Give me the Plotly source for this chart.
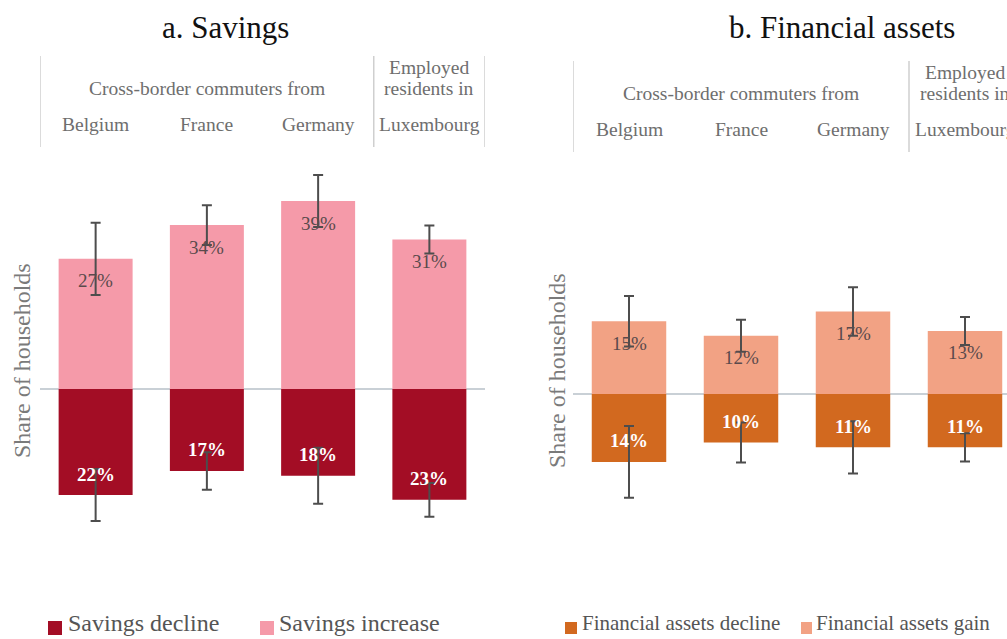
import plotly.graph_objects as go

W, H = 1007, 639
FONT = "Liberation Serif"

# ---- data -------------------------------------------------------------
countries = ["Belgium", "France", "Germany", "Luxembourg"]

savings_decline = [22, 17, 18, 23]
savings_increase = [27, 34, 39, 31]
savings_decline_err = [5.4, 3.9, 5.8, 3.5]
savings_increase_err = [7.5, 4.1, 5.4, 2.9]

assets_decline = [14, 10, 11, 11]
assets_gain = [15, 12, 17, 13]
assets_decline_err = [7.4, 4.1, 5.4, 2.9]
assets_gain_err = [5.2, 3.3, 5.0, 2.9]

panel_titles = ["a. Savings", "b. Financial assets"]
group_label = "Cross-border commuters from"
resident_label = ["Employed", "residents in"]
y_title = "Share of households"

# ---- colours ----------------------------------------------------------
SAV_DEC = "#A30D25"
SAV_INC = "#F59AA9"
FIN_DEC = "#D2691F"
FIN_GAIN = "#F2A284"
ERR = "#4d4d4d"
HEAD = "#6e6e6e"
DIVIDER = "#cfcfcf"


def px_x(p):
    return p / W


def px_y(p):
    return 1 - p / H


# pixel geometry of the two panels
PLOT_TOP, PLOT_BOTTOM = 160, 560
panels = [
    dict(xa="x", ya="y", left=40, right=485, step=111.25, zero=389, scale=4.82, dy=0,
         title_x=225, ytitle_x=22, ytitle_y=361,
         key_sq=[(48, 62), (260, 274)], key_txt=[66, 277], key_size=24, key_sq_h=14),
    dict(xa="x2", ya="y2", left=573, right=W, step=112.0, zero=394, scale=4.85, dy=5,
         title_x=842, ytitle_x=557, ytitle_y=371,
         key_sq=[(565, 577), (801, 812)], key_txt=[580, 814], key_size=21, key_sq_h=12),
]

series = [
    (("Savings decline", savings_decline, savings_decline_err, SAV_DEC),
     ("Savings increase", savings_increase, savings_increase_err, SAV_INC)),
    (("Financial assets decline", assets_decline, assets_decline_err, FIN_DEC),
     ("Financial assets gain", assets_gain, assets_gain_err, FIN_GAIN)),
]

fig = go.Figure()
annotations = []
shapes = []
layout_axes = {}
KEY_SQ_Y = 628   # centre of the key squares
KEY_TXT_Y = 623  # centre of the key text boxes

for idx, (p, (dec, inc)) in enumerate(zip(panels, series)):
    xa, ya = p["xa"], p["ya"]
    xref, yref = xa, ya
    # decline below zero, increase above
    for k, ((name, vals, err, col), sign) in enumerate(((dec, -1), (inc, 1))):
        fig.add_trace(go.Bar(
            x=countries, y=[sign * v for v in vals], name=name,
            marker=dict(color=col, line=dict(width=0)),
            error_y=dict(type="data", array=err, color=ERR, thickness=2, width=5),
            xaxis=xa, yaxis=ya, hoverinfo="skip", showlegend=False,
        ))
        for c, v in zip(countries, vals):
            if sign > 0:
                font = dict(family=FONT, size=19, color="#5a4a4c")
            else:
                font = dict(family=FONT, size=19, color="white", weight="bold")
            annotations.append(dict(
                x=c, y=sign * v, xref=xref, yref=yref, text=f"{v}%",
                showarrow=False, yshift=-22 if sign > 0 else 21, font=font,
            ))
        # key entry below the panel
        x0, x1 = p["key_sq"][k]
        hh = p["key_sq_h"] / 2
        shapes.append(dict(
            type="rect", xref="paper", yref="paper",
            x0=px_x(x0), x1=px_x(x1), y0=px_y(KEY_SQ_Y + hh), y1=px_y(KEY_SQ_Y - hh),
            fillcolor=col, line=dict(width=0),
        ))
        annotations.append(dict(
            x=px_x(p["key_txt"][k]), y=px_y(KEY_TXT_Y), xref="paper", yref="paper",
            text=name, showarrow=False, xanchor="left", yanchor="middle",
            font=dict(family=FONT, size=p["key_size"], color="#555555"),
        ))

    # axes
    n_vis = (p["right"] - p["left"]) / p["step"]
    y_hi = (p["zero"] - PLOT_TOP) / p["scale"]
    y_lo = -(PLOT_BOTTOM - p["zero"]) / p["scale"]
    xkey = "xaxis" if xa == "x" else "xaxis2"
    ykey = "yaxis" if ya == "y" else "yaxis2"
    layout_axes[xkey] = dict(
        domain=[px_x(p["left"]), px_x(p["right"])], range=[-0.5, -0.5 + n_vis],
        showticklabels=False, showgrid=False, zeroline=False, showline=False,
        ticks="", anchor=ya, type="category", fixedrange=True,
    )
    layout_axes[ykey] = dict(
        domain=[px_y(PLOT_BOTTOM), px_y(PLOT_TOP)], range=[y_lo, y_hi],
        showticklabels=False, showgrid=False, zeroline=True,
        zerolinecolor="#c9d0d6", zerolinewidth=1.5, showline=False, ticks="",
        anchor=xa, fixedrange=True,
    )

    dy = p["dy"]
    # panel title
    annotations.append(dict(
        x=px_x(p["title_x"]), y=px_y(28), xref="paper", yref="paper",
        text=panel_titles[idx], showarrow=False,
        font=dict(family=FONT, size=31, color="#111111"),
        xanchor="center", yanchor="middle",
    ))
    # group header
    annotations.append(dict(
        x=1, y=px_y(88 + dy), xref=xref, yref="paper", text=group_label,
        showarrow=False, font=dict(family=FONT, size=19.5, color=HEAD),
        xanchor="center", yanchor="middle",
    ))
    for k, line in enumerate(resident_label):
        annotations.append(dict(
            x=3, y=px_y(68 + 20 * k + dy), xref=xref, yref="paper", text=line,
            showarrow=False, font=dict(family=FONT, size=19.5, color=HEAD),
            xanchor="center", yanchor="middle",
        ))
    for c in countries:
        annotations.append(dict(
            x=c, y=px_y(124 + dy), xref=xref, yref="paper", text=c,
            showarrow=False, font=dict(family=FONT, size=19.5, color=HEAD),
            xanchor="center", yanchor="middle",
        ))
    # vertical dividers of the header
    for xv in (-0.5, 2.5, 3.5):
        shapes.append(dict(
            type="line", xref=xref, yref="paper", x0=xv, x1=xv,
            y0=px_y(56 + dy), y1=px_y(147 + dy),
            line=dict(color=DIVIDER, width=1.5),
        ))
    # y-axis title
    annotations.append(dict(
        x=px_x(p["ytitle_x"]), y=px_y(p["ytitle_y"]), xref="paper", yref="paper",
        text=y_title, textangle=-90, showarrow=False,
        font=dict(family=FONT, size=24, color="#7a7a7a"),
        xanchor="center", yanchor="middle",
    ))

fig.update_layout(
    width=W, height=H,
    margin=dict(l=0, r=0, t=0, b=0),
    paper_bgcolor="white", plot_bgcolor="white",
    barmode="relative", bargap=0.335,
    showlegend=False,
    annotations=annotations, shapes=shapes,
    **layout_axes,
)

fig.write_html("out.html")
